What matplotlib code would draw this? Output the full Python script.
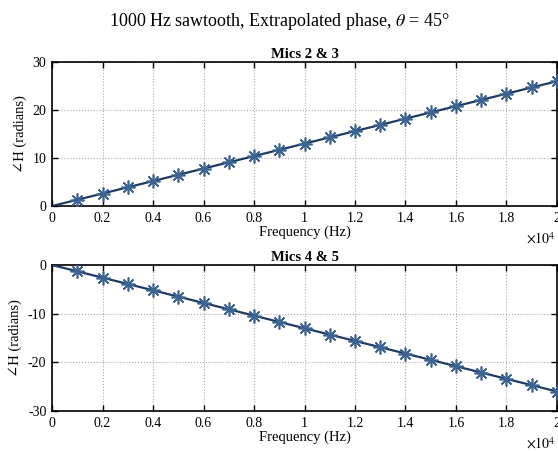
import matplotlib
matplotlib.use("Agg")
import matplotlib.pyplot as plt
from matplotlib.ticker import FixedFormatter

plt.rcParams['font.family'] = ['Liberation Serif', 'DejaVu Serif']
plt.rcParams['mathtext.fontset'] = 'stix'
plt.rcParams['axes.unicode_minus'] = False

freq = [1000, 2000, 3000, 4000, 5000, 6000, 7000, 8000, 9000, 10000,
        11000, 12000, 13000, 14000, 15000, 16000, 17000, 18000, 19000, 20000]
phase_23 = [1.3, 2.6, 3.9, 5.2, 6.5, 7.8, 9.1, 10.4, 11.7, 13.0,
            14.3, 15.6, 16.9, 18.2, 19.5, 20.8, 22.1, 23.4, 24.7, 26.0]
phase_45 = [-1.3, -2.6, -3.9, -5.2, -6.5, -7.8, -9.1, -10.4, -11.7, -13.0,
            -14.3, -15.6, -16.9, -18.2, -19.5, -20.8, -22.1, -23.4, -24.7, -26.0]
fit_freq = [0, 20000]
fit_23 = [0, 26.0]
fit_45 = [0, -26.0]
xticks = [0, 2000, 4000, 6000, 8000, 10000, 12000, 14000, 16000, 18000, 20000]
xticklabels = ['0', '0.2', '0.4', '0.6', '0.8', '1', '1.2', '1.4', '1.6', '1.8', '2']

line_color = '#1f3b63'
marker_color = '#3d6491'

fig = plt.figure(figsize=(5.58, 4.51), dpi=100)
ax1 = fig.add_axes([0.0932, 0.5432, 0.905, 0.3193])
ax2 = fig.add_axes([0.0932, 0.0887, 0.905, 0.3237])

fig.text(0.5, 1 - 22 / 451, r'1000 Hz sawtooth, Extrapolated phase, $\theta$ = 45°',
         ha='center', va='center', fontsize=13)

def style(ax, fx, fy, px, py, ylim, yticks, title):
    ax.plot(fx, fy, color=line_color, lw=1.6, zorder=3)
    ax.plot(px, py, linestyle='none', marker=(8, 2, 0), markersize=10,
            markeredgecolor=marker_color, markeredgewidth=1.2, zorder=4)
    ax.set_xlim(0, 20000)
    ax.set_ylim(*ylim)
    ax.set_xticks(xticks)
    ax.xaxis.set_major_formatter(FixedFormatter(xticklabels))
    ax.set_yticks(yticks)
    ax.tick_params(direction='in', top=True, right=True, labelsize=10, length=4, width=1, pad=4)
    ax.grid(True, linestyle=':', color='#aaaaaa', linewidth=0.8)
    for s in ax.spines.values():
        s.set_linewidth(1.2)
    ax.set_title(title, fontsize=10.5, fontweight='bold', pad=3)
    ax.set_xlabel('Frequency (Hz)', fontsize=10.5, labelpad=1)
    ax.set_ylabel('∠H (radians)', fontsize=10.5, labelpad=4)
    ax.annotate(r'$\times10^4$', xy=(1.0, 0.0), xycoords='axes fraction',
                xytext=(-1, -33 * 0.72), textcoords='offset points',
                ha='right', va='center', fontsize=10)

style(ax1, fit_freq, fit_23, freq, phase_23, (0, 30), [0, 10, 20, 30], 'Mics 2 & 3')
style(ax2, fit_freq, fit_45, freq, phase_45, (-30, 0), [-30, -20, -10, 0], 'Mics 4 & 5')

fig.savefig('out.png', dpi=100)
